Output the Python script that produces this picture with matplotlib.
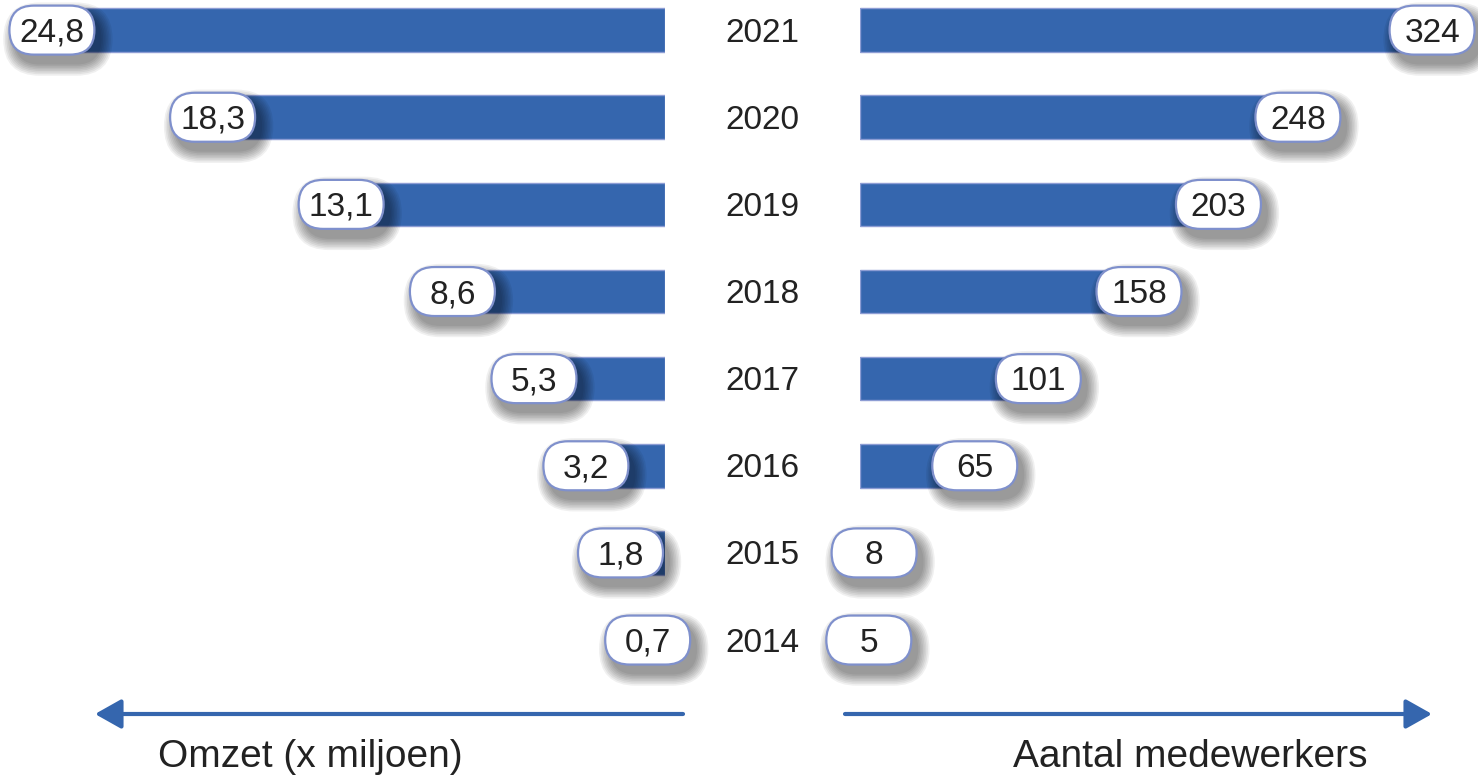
import matplotlib.pyplot as plt
import matplotlib.transforms as mtransforms
from matplotlib.patches import FancyBboxPatch, FancyArrowPatch

plt.rcParams['font.family'] = ['Liberation Sans', 'DejaVu Sans']

years = ['2014', '2015', '2016', '2017', '2018', '2019', '2020', '2021']
omzet = [0.7, 1.8, 3.2, 5.3, 8.6, 13.1, 18.3, 24.8]
omzet_labels = ['0,7', '1,8', '3,2', '5,3', '8,6', '13,1', '18,3', '24,8']
medewerkers = [5, 8, 65, 101, 158, 203, 248, 324]
medewerkers_labels = [str(v) for v in medewerkers]

BLUE = '#3566ae'
EDGE = '#8d9dd4'
TXT = '#222222'
W, H = 1478, 778

fig = plt.figure(figsize=(W / 100, H / 100), dpi=100)
axL = fig.add_axes([0, 0.1213, 665 / W, 0.87])
axR = fig.add_axes([860 / W, 0.1213, 618 / W, 0.87])

ypos = list(range(len(years)))
axL.barh(ypos, omzet, height=0.5, color=BLUE, edgecolor=EDGE, linewidth=1)
axL.set_xlim(26.9, 0)
axR.barh(ypos, medewerkers, height=0.5, color=BLUE, edgecolor=EDGE, linewidth=1)
axR.set_xlim(0, 350)
for ax in (axL, axR):
    ax.set_ylim(-0.5, 7.268)
    ax.axis('off')


def pill(ax, x, y, label):
    w, h = 85, 49
    trans = mtransforms.Affine2D() + mtransforms.ScaledTranslation(x, y, ax.transData)
    # soft shadow
    for k in range(8):
        g = 1 + k * 1.6
        sh = FancyBboxPatch((-w / 2 + 6 - g, -h / 2 - 9 - g), w + 2 * g, h + 2 * g,
                            boxstyle=f"round,pad=0,rounding_size={h / 2 + g}",
                            transform=trans, fc='black', ec='none', alpha=0.06,
                            clip_on=False, zorder=3)
        ax.add_patch(sh)
    box = FancyBboxPatch((-w / 2, -h / 2), w, h,
                         boxstyle=f"round,pad=0,rounding_size={h / 2}",
                         transform=trans, fc='white', ec='#7f90cc', lw=1.6,
                         clip_on=False, zorder=4)
    ax.add_patch(box)
    tt = mtransforms.offset_copy(ax.transData, fig=fig, y=-3, units='dots')
    ax.text(x, y, label, transform=tt, ha='center', va='center', fontsize=24,
            color=TXT, zorder=5, clip_on=False)


for i in ypos:
    pill(axL, omzet[i], i, omzet_labels[i])
    pill(axR, medewerkers[i], i, medewerkers_labels[i])

yt = mtransforms.blended_transform_factory(fig.transFigure, axL.transData)
yt = mtransforms.offset_copy(yt, fig=fig, y=-3, units='dots')
for i, yr in enumerate(years):
    axL.text(762 / W, i, yr, transform=yt, ha='center', va='center',
             fontsize=24, color=TXT, clip_on=False)

ya = 1 - 714 / H
for x0, x1 in [(683, 95), (845, 1432)]:
    fig.add_artist(FancyArrowPatch((x0 / W, ya), (x1 / W, ya), transform=fig.transFigure,
                                   arrowstyle='-|>,head_length=0.8,head_width=0.45',
                                   mutation_scale=20, lw=3, color=BLUE,
                                   shrinkA=0, shrinkB=0))

fig.text(310 / W, 1 - 757 / H, 'Omzet (x miljoen)', ha='center', va='center',
         fontsize=28, color=TXT)
fig.text(1190 / W, 1 - 757 / H, 'Aantal medewerkers', ha='center', va='center',
         fontsize=28, color=TXT)

fig.savefig('out.png', dpi=100)
